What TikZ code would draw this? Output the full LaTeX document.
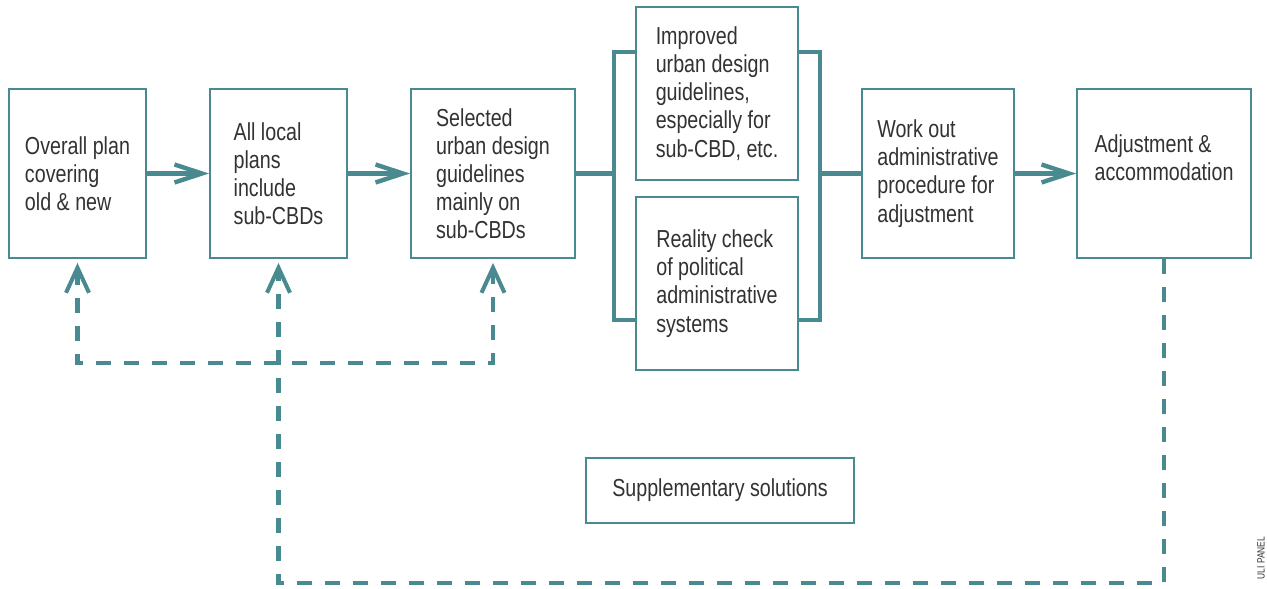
\documentclass[tikz,border=0pt]{standalone}
\usepackage{fontspec}
\setmainfont[FakeStretch=0.8]{Liberation Sans}
\usetikzlibrary{arrows.meta}
\definecolor{uliteal}{RGB}{72,138,144}
\definecolor{ulitext}{RGB}{50,50,50}

\begin{document}
\begin{tikzpicture}[x=0.02cm, y=-0.02cm,
        stage/.style={draw=uliteal, line width=1.1pt, align=left, text=ulitext,
            font=\fontsize{14}{16}\selectfont, inner sep=0pt},
        flow/.style={draw=uliteal, line width=2.5pt},
        feedback/.style={draw=uliteal, line width=2.3pt, dash pattern=on 0.3cm off 0.26cm},
        barb/.tip={Straight Barb[length=0.55cm, width=0.36cm]},
        dbarb/.tip={Straight Barb[length=0.5cm, width=0.46cm]}]
        \useasboundingbox (0,0) rectangle (1267,588);

        % main row of stages
        \node[stage, minimum width=2.74cm, minimum height=3.38cm] (overall) at (77.5,173.5) {Overall plan\\covering\\old \& new};
        \node[stage, minimum width=2.74cm, minimum height=3.38cm] (local) at (278.5,173.5) {All local\\plans\\include\\sub-CBDs};
        \node[stage, minimum width=3.28cm, minimum height=3.38cm] (selected) at (493,173.5) {Selected\\urban design\\guidelines\\mainly on\\sub-CBDs};
        \node[stage, minimum width=3.24cm, minimum height=3.46cm] (improved) at (717,93.5) {Improved\\urban design\\guidelines,\\especially for\\sub-CBD, etc.};
        \node[stage, minimum width=3.24cm, minimum height=3.46cm] (reality) at (717,283.5) {Reality check\\of political\\administrative\\systems};
        \node[stage, minimum width=3.04cm, minimum height=3.38cm] (workout) at (938,173.5) {Work out\\administrative\\procedure for\\adjustment};
        \node[stage, minimum width=3.48cm, minimum height=3.38cm] (adjust) at (1164,173.5) {Adjustment \&\\accommodation\\[0.07cm]};
        \node[stage, minimum width=5.36cm, minimum height=1.30cm] (supp) at (720,490.5) {Supplementary solutions};

        \node[rotate=90, text=ulitext, font=\fontsize{6}{7}\selectfont] (credit) at (1261,558) {ULI PANEL};

        \coordinate (splitL) at (614,173.5);
        \coordinate (joinR) at (820,173.5);

        \draw[flow, -barb] (overall) -- (local);
        \draw[flow, -barb] (local) -- (selected);
        \draw[flow] (selected) -- (splitL);
        \draw[flow] ([yshift=0.83cm]improved.west) -| (splitL) |- ([yshift=-0.73cm]reality.west);
        \draw[flow] ([yshift=0.83cm]improved.east) -| (joinR) |- ([yshift=-0.73cm]reality.east);
        \draw[flow] (joinR) -- (workout);
        \draw[flow, -barb] (workout) -- (adjust);

        % feedback loops
        \draw[feedback, dbarb-dbarb, shorten <=0.08cm, shorten >=0.08cm] (overall.south) -- ++(0,104) -| (selected.south);
        \draw[feedback, -dbarb, shorten >=0.08cm] (adjust.south) -- ++(0,324) -| (local.south);
    \end{tikzpicture}
\end{document}
